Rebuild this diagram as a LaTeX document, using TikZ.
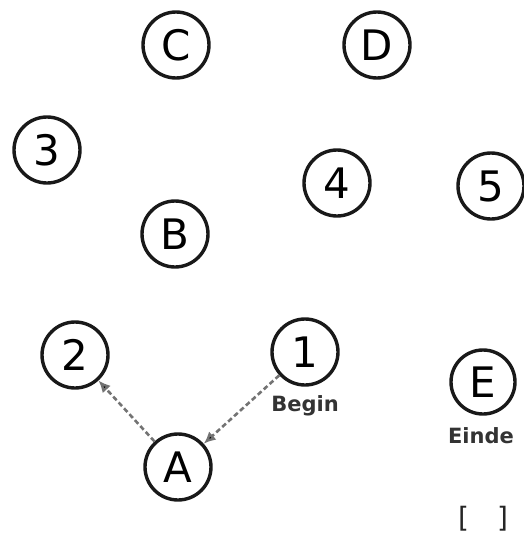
\documentclass[tikz,border=0pt]{standalone}
\usepackage{fontspec}
\setmainfont{DejaVu Sans}
\usetikzlibrary{arrows.meta}

\begin{document}
\begin{tikzpicture}[
    x=1pt, y=-1pt,
    place/.style={circle, draw=black!90, line width=3.4pt, minimum size=66pt, inner sep=0pt, font=\fontsize{42}{42}\selectfont},
    caption/.style={font=\bfseries\fontsize{21}{21}\selectfont, text=black!80},
    arrow/.style={-{Latex[length=12pt,width=11pt,fill=black]}, dash pattern=on 5pt off 3pt, line width=2.6pt, color=black!55}
]
    \useasboundingbox (0,0) rectangle (523,541);

    % Nodes
    \node[place] (c) at (176,45) {C};
    \node[place] (d) at (377,45) {D};
    \node[place] (three) at (47,150) {3};
    \node[place] (four) at (337,183) {4};
    \node[place] (five) at (491,186) {5};
    \node[place] (b) at (175,234) {B};
    \node[place] (two) at (75,355) {2};
    \node[place] (one) at (305,352) {1};
    \node[place, minimum size=64pt] (e) at (483,382) {E};
    \node[place] (a) at (178,467) {A};

    % Labels
    \node[caption] (begin) at (305,406) {Begin};
    \node[caption] (einde) at (481,436) {Einde};
    \node[font=\fontsize{28}{28}\selectfont, text=black!85, inner sep=0pt] (bracket) at (483,519) {[\hspace{28pt}]};

    % Arrows
    \draw[arrow] (a) -- (two);
    \draw[arrow] (one) -- (a);

\end{tikzpicture}
\end{document}
